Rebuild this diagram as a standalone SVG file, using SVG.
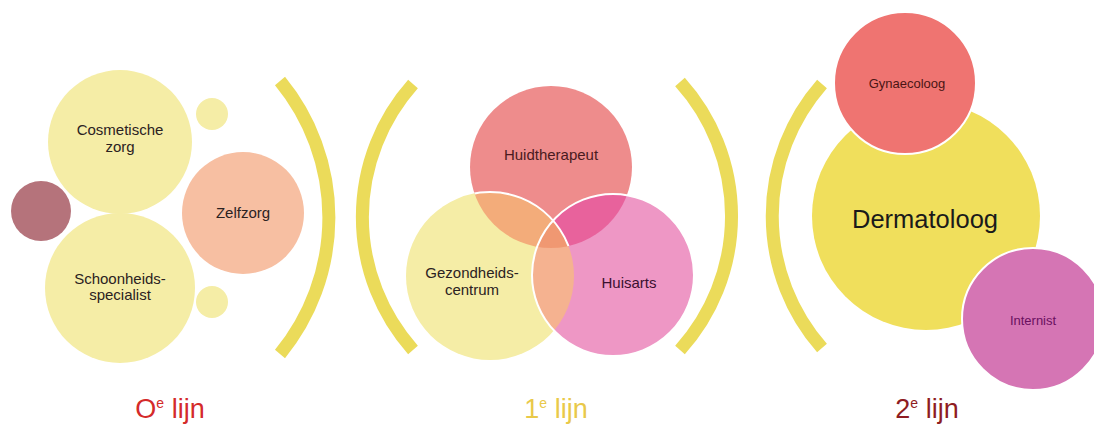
<svg xmlns="http://www.w3.org/2000/svg" width="1094" height="434" viewBox="0 0 1094 434">
<style>
text{font-family:"Liberation Sans",Arial,sans-serif;text-anchor:middle}
.lbl{font-size:15px;fill:#2b2222}
.br{fill:none;stroke:#EBDB5A;stroke-width:13}
.ws{fill:none;stroke:#fff;stroke-width:2}
.ttl{font-size:27px}
.sup{font-size:14px}
</style>
<defs>
<clipPath id="cH"><circle cx="551" cy="167" r="81"/></clipPath>
<clipPath id="cG"><circle cx="490" cy="276" r="84"/></clipPath>
<clipPath id="cHG"><circle cx="551" cy="167" r="81" clip-path="url(#cG)"/></clipPath>
</defs>
<rect width="1094" height="434" fill="#fff"/>
<g id="connectors">
<path class="br" d="M280 81 A215 215 0 0 1 280 354"/>
<path class="br" d="M413 84 A200 200 0 0 0 413 350"/>
<path class="br" d="M680 82 A200 200 0 0 1 680 350"/>
<path class="br" d="M822 84 A200 200 0 0 0 822 348"/>
</g>
<g id="zero-lijn">
<g id="dot-dark"><circle cx="41" cy="211" r="30" fill="#B5737B"/></g>
<g id="cosmetische"><circle cx="120" cy="142" r="72" fill="#F5EDA6"/>
<text class="lbl" x="120" y="135">Cosmetische</text><text class="lbl" x="120" y="152">zorg</text></g>
<g id="schoonheids"><circle cx="120" cy="288" r="75" fill="#F5EDA6"/>
<text class="lbl" x="120" y="284">Schoonheids-</text><text class="lbl" x="120" y="300">specialist</text></g>
<g id="dot-top"><circle cx="212" cy="114" r="16" fill="#F5EDA6"/></g>
<g id="dot-bottom"><circle cx="212" cy="302" r="16" fill="#F5EDA6"/></g>
<g id="zelfzorg"><circle cx="243" cy="213" r="61" fill="#F7BFA2"/>
<text class="lbl" x="243" y="218">Zelfzorg</text></g>
</g>
<g id="eerste-lijn">
<g id="huidtherapeut"><circle cx="551" cy="167" r="81" fill="#EE8C8C"/></g>
<g id="gezondheidscentrum"><circle cx="490" cy="276" r="84" fill="#F5EDA6"/>
<circle cx="490" cy="276" r="84" fill="#F3AC7A" clip-path="url(#cH)"/></g>
<g id="huisarts"><circle cx="613" cy="275" r="81" fill="#EE97C5"/>
<circle cx="613" cy="275" r="81" fill="#E8629C" clip-path="url(#cH)"/>
<circle cx="613" cy="275" r="81" fill="#F5B290" clip-path="url(#cG)"/>
<circle cx="613" cy="275" r="81" fill="#F09872" clip-path="url(#cHG)"/>
<circle class="ws" cx="490" cy="276" r="84" clip-path="url(#cH)"/>
<circle class="ws" cx="613" cy="275" r="81"/></g>
<text class="lbl" x="551" y="160" style="fill:#4a1a20">Huidtherapeut</text>
<text class="lbl" x="472" y="278">Gezondheids-</text>
<text class="lbl" x="472" y="295">centrum</text>
<text class="lbl" x="629" y="288" style="fill:#3a1030">Huisarts</text>
</g>
<g id="tweede-lijn">
<g id="dermatoloog"><circle cx="926" cy="216" r="114" fill="#F0DF5C"/>
<text x="925" y="228" style="font-size:25.5px;fill:#1a1a1a">Dermatoloog</text></g>
<g id="gynaecoloog"><circle cx="905" cy="83" r="71" fill="#EF7471" stroke="#fff" stroke-width="2"/>
<text x="907" y="88" style="font-size:13px;fill:#4a1414">Gynaecoloog</text></g>
<g id="internist"><circle cx="1033" cy="319" r="71" fill="#D575B4" stroke="#fff" stroke-width="2"/>
<text x="1033" y="325" style="font-size:13px;fill:#6a1060">Internist</text></g>
</g>
<g id="labels">
<text class="ttl" x="170" y="418" style="fill:#D42A2A">O<tspan class="sup" dy="-10">e</tspan><tspan dy="10"> lijn</tspan></text>
<text class="ttl" x="556" y="418" style="fill:#E9C94A">1<tspan class="sup" dy="-10">e</tspan><tspan dy="10"> lijn</tspan></text>
<text class="ttl" x="927" y="418" style="fill:#8E1C22">2<tspan class="sup" dy="-10">e</tspan><tspan dy="10"> lijn</tspan></text>
</g>
</svg>
